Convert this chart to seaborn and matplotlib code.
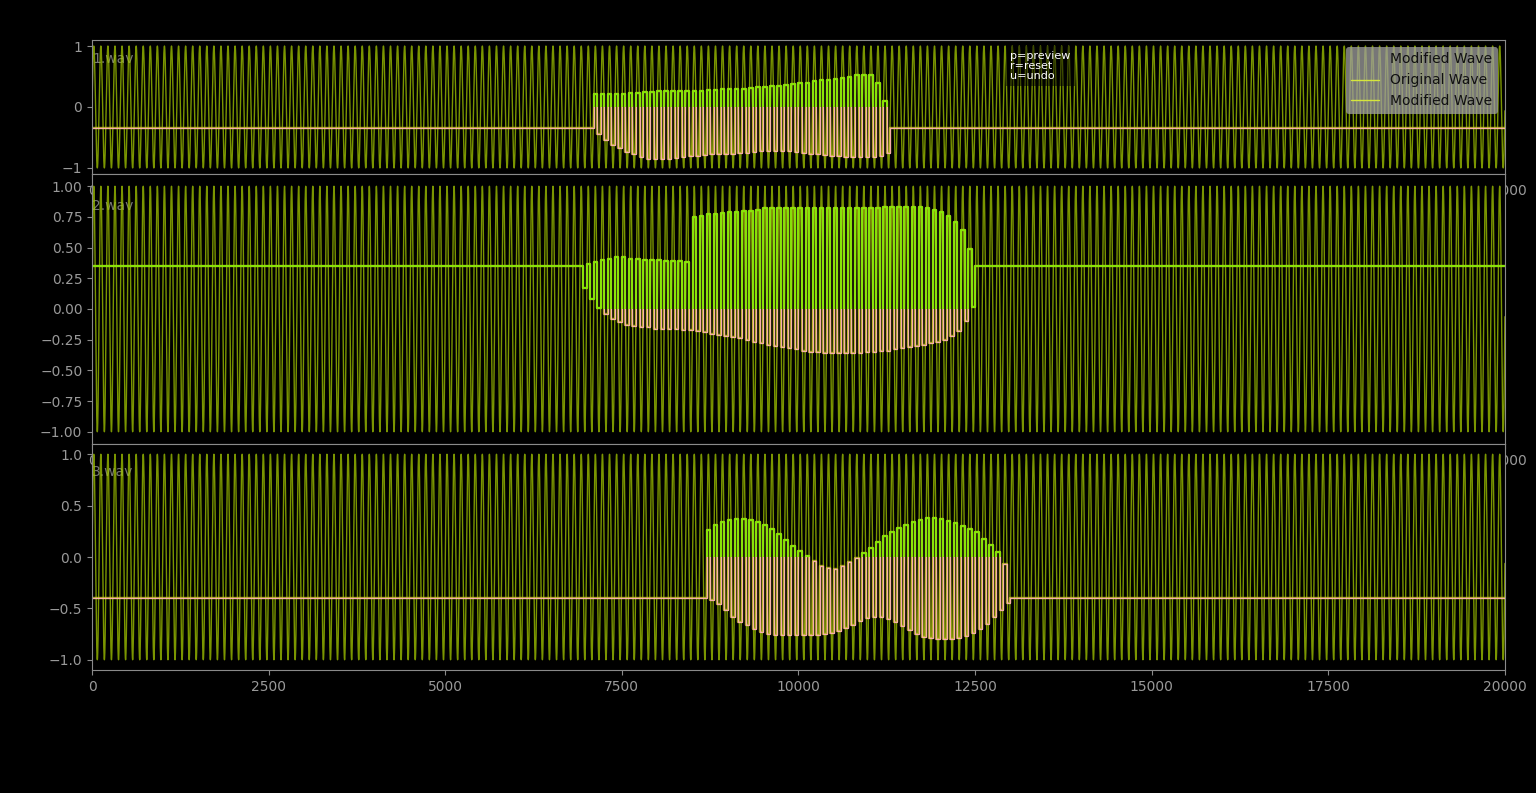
#py3!

import numpy as np
import pandas as pd
import matplotlib
matplotlib.use("Agg")
import matplotlib.pyplot as plt
import seaborn as sns
from matplotlib.patches import Rectangle
from matplotlib.lines import Line2D

"""wave data read off the editor screenshot"""
n_samples = 20000
tone_period = 100      # samples per cycle of the original tone
pulse_len = 100        # samples per pulse of the modified wave

file_names = ['1.wav', '2.wav', '3.wav']
baselines = [-0.35, 0.35, -0.40]
pulse_starts = [7100, 6900, 8700]

# top / bottom level of every pulse in the edited region
tops_1 = [0.21, 0.21, 0.22, 0.22, 0.22, 0.23, 0.23, 0.24, 0.25, 0.26,
          0.26, 0.27, 0.27, 0.27, 0.27, 0.27, 0.28, 0.28, 0.29, 0.29,
          0.30, 0.30, 0.31, 0.32, 0.33, 0.34, 0.35, 0.36, 0.38, 0.39,
          0.40, 0.42, 0.44, 0.45, 0.46, 0.48, 0.50, 0.52, 0.53, 0.53,
          0.40, 0.10]
bots_1 = [-0.45, -0.55, -0.62, -0.68, -0.74, -0.78, -0.82, -0.85, -0.86, -0.86,
          -0.85, -0.84, -0.82, -0.81, -0.80, -0.79, -0.78, -0.78, -0.77, -0.77,
          -0.76, -0.75, -0.74, -0.73, -0.72, -0.72, -0.72, -0.73, -0.74, -0.75,
          -0.77, -0.78, -0.79, -0.80, -0.81, -0.82, -0.82, -0.82, -0.82, -0.82,
          -0.80, -0.76]

tops_2 = [0.35, 0.37, 0.38, 0.40, 0.41, 0.42, 0.42, 0.41, 0.41, 0.40,
          0.40, 0.40, 0.39, 0.39, 0.39, 0.38, 0.75, 0.76, 0.77, 0.77,
          0.78, 0.79, 0.79, 0.80, 0.80, 0.81, 0.82, 0.82, 0.82, 0.82,
          0.82, 0.82, 0.82, 0.82, 0.82, 0.82, 0.82, 0.82, 0.82, 0.82,
          0.82, 0.82, 0.82, 0.83, 0.83, 0.83, 0.83, 0.83, 0.83, 0.82,
          0.81, 0.79, 0.76, 0.71, 0.64, 0.49]
bots_2 = [0.17, 0.08, 0.01, -0.04, -0.08, -0.11, -0.13, -0.14, -0.15, -0.15,
          -0.16, -0.16, -0.16, -0.16, -0.17, -0.17, -0.18, -0.19, -0.20, -0.21,
          -0.22, -0.23, -0.24, -0.25, -0.27, -0.28, -0.29, -0.30, -0.31, -0.32,
          -0.33, -0.34, -0.35, -0.35, -0.36, -0.36, -0.36, -0.36, -0.36, -0.36,
          -0.35, -0.35, -0.34, -0.34, -0.33, -0.32, -0.31, -0.30, -0.29, -0.28,
          -0.27, -0.25, -0.22, -0.18, -0.10, 0.02]

tops_3 = [0.26, 0.31, 0.34, 0.36, 0.37, 0.37, 0.36, 0.34, 0.31, 0.27,
          0.22, 0.17, 0.11, 0.06, 0.01, -0.04, -0.09, -0.11, -0.12, -0.09,
          -0.05, -0.01, 0.04, 0.09, 0.15, 0.20, 0.24, 0.28, 0.31, 0.34,
          0.36, 0.38, 0.38, 0.37, 0.35, 0.33, 0.30, 0.27, 0.24, 0.18,
          0.12, 0.05, -0.07]
bots_3 = [-0.42, -0.46, -0.52, -0.58, -0.63, -0.66, -0.70, -0.73, -0.75, -0.76,
          -0.76, -0.76, -0.76, -0.76, -0.76, -0.76, -0.75, -0.74, -0.72, -0.69,
          -0.66, -0.62, -0.59, -0.58, -0.58, -0.60, -0.63, -0.67, -0.71, -0.75,
          -0.78, -0.79, -0.80, -0.80, -0.80, -0.79, -0.77, -0.74, -0.70, -0.65,
          -0.58, -0.52, -0.45]

all_tops = [tops_1, tops_2, tops_3]
all_bots = [bots_1, bots_2, bots_3]

y_ticks = [[-1, 0, 1],
           [-1, -0.75, -0.5, -0.25, 0, 0.25, 0.5, 0.75, 1],
           [-1, -0.5, 0, 0.5, 1]]
x_ticks = np.arange(0, n_samples + 1, 2500)

# axes boxes in figure fractions (left, bottom, width, height)
panel_boxes = [[0.0599, 0.7806, 0.9199, 0.1690],
               [0.0599, 0.4401, 0.9199, 0.3405],
               [0.0599, 0.1551, 0.9199, 0.2850]]

orig_color = '#a4c800'
under_color = '#d2c43c'
neg_color = '#ffb0b8'
pos_color = '#80f000'
grey = '#8a8a8a'


def modified_wave(base, start, tops, bots):
    """square pulses between the top and bottom levels, flat elsewhere"""
    xs = [0, start]
    ys = [base, base]
    for i, (t, b) in enumerate(zip(tops, bots)):
        s = start + i * pulse_len
        xs += [s, s + pulse_len / 2, s + pulse_len / 2, s + pulse_len]
        ys += [t, t, b, b]
    end = start + len(tops) * pulse_len
    xs += [end, n_samples]
    ys += [base, base]
    return pd.DataFrame({'sample': xs, 'amp': ys})


sns.set_style('ticks')
plt.rcParams.update({
    'figure.facecolor': 'black',
    'axes.facecolor': 'black',
    'axes.edgecolor': grey,
    'xtick.color': grey,
    'ytick.color': grey,
    'xtick.labelcolor': '#999999',
    'ytick.labelcolor': '#999999',
    'xtick.major.size': 3.5,
    'ytick.major.size': 3.5,
    'font.size': 10,
})
plt.rcParams['font.family'] = ['DejaVu Sans']

samples = np.arange(n_samples)
original = pd.DataFrame({'sample': samples,
                         'amp': np.sin(2 * np.pi * samples / tone_period)})

fig = plt.figure(figsize=(15.36, 7.93), dpi=100)

for k in range(3):
    ax = fig.add_axes(panel_boxes[k])
    mod = modified_wave(baselines[k], pulse_starts[k], all_tops[k], all_bots[k])

    ax.text(0, 0.9, file_names[k], color='#777777', fontsize=10,
            ha='left', va='top', zorder=1)

    sns.lineplot(data=original, x='sample', y='amp', estimator=None, sort=False,
                 color=orig_color, lw=1, alpha=0.75, ax=ax, legend=False)

    # modified wave: yellow under-stroke, pink below zero, green above zero
    sns.lineplot(data=mod, x='sample', y='amp', estimator=None, sort=False,
                 color=under_color, lw=1.7, alpha=0.8, ax=ax, legend=False)
    sns.lineplot(data=mod, x='sample', y='amp', estimator=None, sort=False,
                 color=neg_color, lw=0.8, alpha=0.9, ax=ax, legend=False)
    ax.lines[-1].set_clip_path(Rectangle((0, -2), n_samples, 2, transform=ax.transData))
    sns.lineplot(data=mod, x='sample', y='amp', estimator=None, sort=False,
                 color=pos_color, lw=1.3, alpha=0.9, ax=ax, legend=False)
    ax.lines[-1].set_clip_path(Rectangle((0, 0), n_samples, 2, transform=ax.transData))

    ax.set_xlim(0, n_samples)
    ax.set_ylim(-1.1, 1.1)
    ax.set_xticks(x_ticks)
    ax.set_yticks(y_ticks[k])
    ax.set_xlabel('')
    ax.set_ylabel('')
    for sp in ax.spines.values():
        sp.set_visible(True)
        sp.set_color(grey)

    if k == 0:
        ax.text(0.65, 0.92, 'p=preview\nr=reset\nu=undo', transform=ax.transAxes,
                color='white', fontsize=8, ha='left', va='top', linespacing=1.05,
                zorder=5,
                bbox=dict(facecolor='black', alpha=0.5, edgecolor='none', pad=3))
        handles = [Line2D([], [], color='none'),
                   Line2D([], [], color='#d6e63c', lw=1),
                   Line2D([], [], color='#d6e63c', lw=1)]
        leg = ax.legend(handles, ['Modified Wave', 'Original Wave', 'Modified Wave'],
                        loc='upper right', fontsize=10, facecolor='#a0a0a0',
                        framealpha=0.75, edgecolor='none', labelcolor='#111111')
        leg.set_zorder(6)

fig.savefig('out.png', dpi=100, facecolor='black')
